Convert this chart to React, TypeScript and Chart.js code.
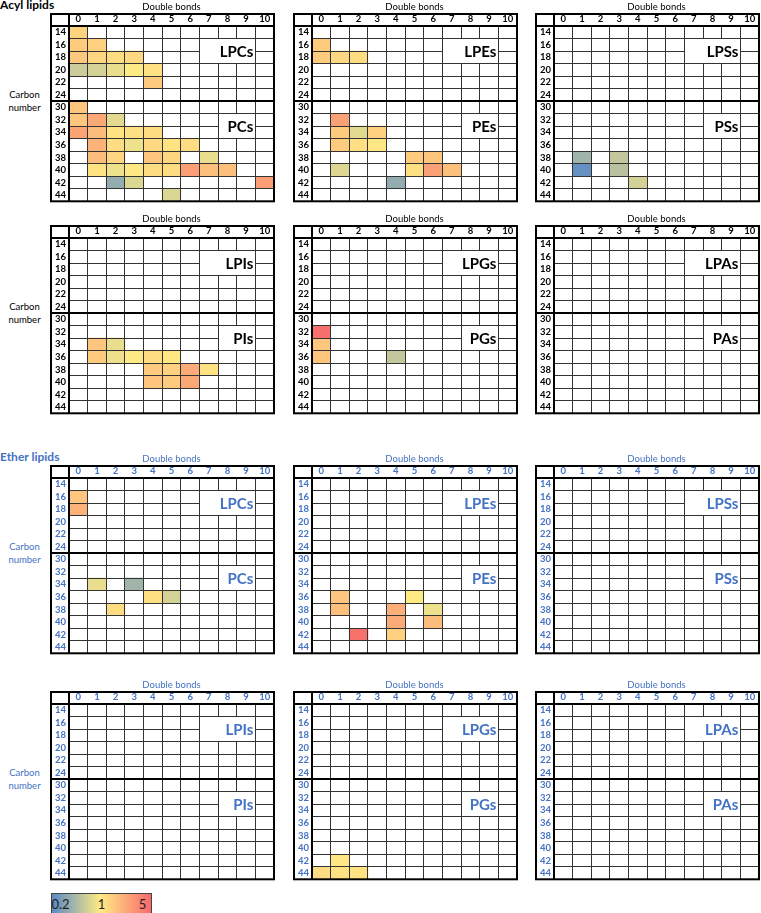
import React, { useEffect, useRef } from 'react';
import { Chart, registerables } from 'chart.js';

Chart.register(...registerables);
Chart.defaults.font.family = 'Lato, "Open Sans", sans-serif';

// ---------- data ----------
const DOUBLE_BONDS = ['0', '1', '2', '3', '4', '5', '6', '7', '8', '9', '10'];
const CARBON_NUMBERS = ['14', '16', '18', '20', '22', '24', '30', '32', '34', '36', '38', '40', '42', '44'];
const SCALE_TICKS = ['0.2', '1', '5'];
const SCALE_VALUES = [0.2, 1, 5];

type Cell = [string, number, number]; // [carbon number, double bonds, fold change]

const ACYL_PC: Cell[] = [
  ['14', 0, 1.35],
  ['16', 0, 1.5], ['16', 1, 1.4],
  ['18', 0, 1.55], ['18', 1, 1.3], ['18', 2, 1.2], ['18', 3, 1.25],
  ['20', 0, 0.6], ['20', 1, 0.65], ['20', 2, 0.8], ['20', 3, 1.0], ['20', 4, 1.1],
  ['22', 4, 1.5],
  ['30', 0, 1.6],
  ['32', 0, 1.6], ['32', 1, 2.3], ['32', 2, 0.75],
  ['34', 0, 2.4], ['34', 1, 1.8], ['34', 2, 1.1], ['34', 3, 1.15], ['34', 4, 1.2],
  ['36', 1, 2.0], ['36', 2, 1.2], ['36', 3, 0.85], ['36', 4, 1.25], ['36', 5, 1.1], ['36', 6, 1.2],
  ['38', 1, 1.8], ['38', 2, 1.3], ['38', 4, 1.6], ['38', 5, 1.3], ['38', 7, 0.8],
  ['40', 1, 1.1], ['40', 2, 0.85], ['40', 3, 1.05], ['40', 4, 1.2], ['40', 5, 1.2], ['40', 6, 2.6], ['40', 7, 1.7], ['40', 8, 1.7],
  ['42', 2, 0.35], ['42', 3, 0.7], ['42', 10, 2.6],
  ['44', 5, 0.7],
];
const ACYL_PE: Cell[] = [
  ['16', 0, 1.5],
  ['18', 0, 1.5], ['18', 1, 1.25], ['18', 2, 1.2],
  ['32', 1, 2.5],
  ['34', 1, 1.5], ['34', 2, 0.75], ['34', 3, 1.4],
  ['36', 1, 1.5], ['36', 2, 1.15], ['36', 3, 1.05],
  ['38', 5, 1.5], ['38', 6, 1.6],
  ['40', 1, 0.72], ['40', 5, 1.15], ['40', 6, 2.5], ['40', 7, 1.7],
  ['42', 4, 0.35],
];
const ACYL_PS: Cell[] = [
  ['38', 1, 0.4], ['38', 3, 0.55],
  ['40', 1, 0.22], ['40', 3, 0.5],
  ['42', 4, 0.65],
];
const ACYL_PI: Cell[] = [
  ['34', 1, 1.6], ['34', 2, 0.8],
  ['36', 1, 1.5], ['36', 2, 0.85], ['36', 3, 1.0], ['36', 4, 1.2], ['36', 5, 1.05],
  ['38', 4, 1.5], ['38', 5, 1.4], ['38', 6, 2.2], ['38', 7, 1.1],
  ['40', 4, 1.6], ['40', 5, 1.5], ['40', 6, 2.3],
];
const ACYL_PG: Cell[] = [
  ['32', 0, 4.6], ['34', 0, 1.6], ['36', 0, 1.6], ['36', 4, 0.55],
];
const ACYL_PA: Cell[] = [];
const ETHER_PC: Cell[] = [
  ['16', 0, 1.6], ['18', 0, 2.0],
  ['34', 1, 0.8], ['34', 3, 0.4],
  ['36', 4, 1.15], ['36', 5, 0.65],
  ['38', 2, 1.2],
];
const ETHER_PE: Cell[] = [
  ['36', 1, 1.6], ['36', 5, 1.0],
  ['38', 1, 1.7], ['38', 4, 2.1], ['38', 6, 0.85],
  ['40', 4, 2.2], ['40', 6, 1.8],
  ['42', 2, 4.5], ['42', 4, 1.4],
];
const ETHER_PS: Cell[] = [];
const ETHER_PI: Cell[] = [];
const ETHER_PG: Cell[] = [
  ['42', 1, 1.05], ['44', 0, 1.2], ['44', 1, 1.1], ['44', 2, 1.1],
];
const ETHER_PA: Cell[] = [];

// ---------- style ----------
const FONT = 'Lato, "Open Sans", sans-serif';
const BLUE_TEXT = '#4472C4';
const GRID = '#333333';
const C_LOW = [90, 138, 198];
const C_MID = [255, 235, 132];
const C_HIGH = [248, 105, 107];

const COL_LEFTS = [69, 312, 554];
const ROW_TOPS = [26, 238, 478, 704];
const LABEL_W = 18;
const HEADER_H = 12;
const AXIS_H = 25;
const DATA_W = 205;
const DATA_H = 176;
const PAD = { left: 2, right: 2, top: 1, bottom: 8 };
const CANVAS_W = PAD.left + LABEL_W + DATA_W + PAD.right;
const CANVAS_H = PAD.top + AXIS_H + DATA_H + PAD.bottom;

function rgb(c: number[]) {
  return `rgb(${c.map((v) => Math.round(v)).join(',')})`;
}
function foldColor(v: number) {
  const t = Math.max(-1, Math.min(1, Math.log(v) / Math.log(5)));
  const target = t < 0 ? C_LOW : C_HIGH;
  const f = Math.abs(t);
  return rgb(C_MID.map((m, i) => m + (target[i] - m) * f));
}

type PanelDef = { row: number; col: number; lyso: string; diacyl: string; cells: Cell[]; ether: boolean };

const PANELS: PanelDef[] = [
  { row: 0, col: 0, lyso: 'LPCs', diacyl: 'PCs', cells: ACYL_PC, ether: false },
  { row: 0, col: 1, lyso: 'LPEs', diacyl: 'PEs', cells: ACYL_PE, ether: false },
  { row: 0, col: 2, lyso: 'LPSs', diacyl: 'PSs', cells: ACYL_PS, ether: false },
  { row: 1, col: 0, lyso: 'LPIs', diacyl: 'PIs', cells: ACYL_PI, ether: false },
  { row: 1, col: 1, lyso: 'LPGs', diacyl: 'PGs', cells: ACYL_PG, ether: false },
  { row: 1, col: 2, lyso: 'LPAs', diacyl: 'PAs', cells: ACYL_PA, ether: false },
  { row: 2, col: 0, lyso: 'LPCs', diacyl: 'PCs', cells: ETHER_PC, ether: true },
  { row: 2, col: 1, lyso: 'LPEs', diacyl: 'PEs', cells: ETHER_PE, ether: true },
  { row: 2, col: 2, lyso: 'LPSs', diacyl: 'PSs', cells: ETHER_PS, ether: true },
  { row: 3, col: 0, lyso: 'LPIs', diacyl: 'PIs', cells: ETHER_PI, ether: true },
  { row: 3, col: 1, lyso: 'LPGs', diacyl: 'PGs', cells: ETHER_PG, ether: true },
  { row: 3, col: 2, lyso: 'LPAs', diacyl: 'PAs', cells: ETHER_PA, ether: true },
];

function Panel({ def }: { def: PanelDef }) {
  const ref = useRef<HTMLCanvasElement>(null);
  useEffect(() => {
    if (!ref.current) return;
    const txt = def.ether ? BLUE_TEXT : '#000000';
    const datasets: any[] = [];
    CARBON_NUMBERS.forEach((c, r) => {
      const rowCells = def.cells.filter((x) => x[0] === c);
      if (!rowCells.length) return;
      datasets.push({
        data: DOUBLE_BONDS.map((_, db) => (rowCells.some((x) => x[1] === db) ? [r, r + 1] : null)),
        backgroundColor: DOUBLE_BONDS.map((_, db) => {
          const m = rowCells.find((x) => x[1] === db);
          return m ? foldColor(m[2]) : 'rgba(0,0,0,0)';
        }),
        borderWidth: 0,
        grouped: false,
        barPercentage: 1,
        categoryPercentage: 1,
        xAxisID: 'x',
        yAxisID: 'y',
      });
    });

    const frame = {
      id: 'tableFrame',
      afterDraw(chart: any) {
        const { ctx, chartArea: a, scales } = chart;
        const xs = scales.x;
        const ys = scales.y;
        const cw = xs.getPixelForValue(1) - xs.getPixelForValue(0);
        const colL = (c: number) => xs.getPixelForValue(c) - cw / 2;
        const rowT = (r: number) => ys.getPixelForValue(r);
        ctx.save();
        const boxes: [string, number, number][] = [
          [def.lyso, 7, 1],
          [def.diacyl, 8, 7],
        ];
        boxes.forEach(([label, c0, r0]) => {
          const x0 = Math.round(colL(c0) - 0.5) + 1;
          const x1 = Math.round(colL(10) - 0.5);
          const y0 = Math.round(rowT(r0) - 0.5) + 1;
          const y1 = Math.round(rowT(r0 + 2) - 0.5);
          ctx.fillStyle = '#ffffff';
          ctx.fillRect(x0, y0, x1 - x0, y1 - y0);
          ctx.fillStyle = txt;
          ctx.font = `bold 15px ${FONT}`;
          ctx.textAlign = 'right';
          ctx.textBaseline = 'alphabetic';
          ctx.fillText(label, colL(10) - 2, rowT(r0 + 1) + 6.3);
        });
        const L = a.left - LABEL_W;
        const R = a.right;
        const T = a.top - HEADER_H;
        const B = a.bottom;
        ctx.strokeStyle = '#000000';
        ctx.lineWidth = 2;
        ctx.strokeRect(L, T, R - L, B - T);
        const line = (x0: number, y0: number, x1: number, y1: number) => {
          ctx.beginPath();
          ctx.moveTo(x0, y0);
          ctx.lineTo(x1, y1);
          ctx.stroke();
        };
        line(L, a.top, R, a.top);
        line(a.left, T, a.left, B);
        const sep = Math.round(rowT(6));
        line(L, sep, R, sep);
        ctx.restore();
      },
    };

    const tickFont = { family: FONT, size: 9.5, weight: 'bold' as const };
    const chart = new Chart(ref.current, {
      type: 'bar',
      data: { labels: DOUBLE_BONDS, datasets },
      options: {
        responsive: false,
        animation: false,
        events: [],
        layout: { padding: PAD },
        plugins: { legend: { display: false }, tooltip: { enabled: false } },
        scales: {
          x: {
            type: 'category',
            position: 'top',
            offset: true,
            grid: { offset: true, color: GRID, lineWidth: 1, drawTicks: false, z: 1 },
            border: { display: false },
            ticks: { color: txt, font: tickFont, padding: 1, autoSkip: false, maxRotation: 0 },
            title: { display: true, text: 'Double bonds', color: txt, font: { family: FONT, size: 9.5 }, padding: 0 },
            afterFit: (s: any) => {
              s.height = AXIS_H;
            },
          },
          y: {
            type: 'linear',
            position: 'left',
            min: 0,
            max: CARBON_NUMBERS.length,
            reverse: true,
            ticks: { display: false, stepSize: 1, maxTicksLimit: 100, autoSkip: false },
            grid: { color: GRID, lineWidth: 1, drawTicks: false, z: 1 },
            border: { display: false },
            afterFit: (s: any) => {
              s.width = 0;
            },
          },
          yl: {
            type: 'category',
            labels: CARBON_NUMBERS,
            position: 'left',
            offset: true,
            grid: { display: false, drawTicks: false },
            border: { display: false },
            ticks: { color: txt, font: tickFont, padding: 3, autoSkip: false },
            afterFit: (s: any) => {
              s.width = LABEL_W;
            },
          },
        },
      } as any,
      plugins: [frame],
    });
    return () => chart.destroy();
  }, [def]);

  return (
    <canvas
      ref={ref}
      width={CANVAS_W}
      height={CANVAS_H}
      style={{
        position: 'absolute',
        left: COL_LEFTS[def.col] - LABEL_W - PAD.left,
        top: ROW_TOPS[def.row] - AXIS_H - PAD.top,
        width: CANVAS_W,
        height: CANVAS_H,
      }}
    />
  );
}

export default function App() {
  const sepOffset = (6 * DATA_H) / CARBON_NUMBERS.length;
  return (
    <div style={{ position: 'absolute', left: 0, top: 0, width: 761, height: 913, background: '#fff', fontFamily: FONT, overflow: 'hidden' }}>
      <div style={{ position: 'absolute', left: 0, top: -1, fontSize: 12, lineHeight: '12px', fontWeight: 700, color: '#000', whiteSpace: 'nowrap' }}>
        Acyl lipids
      </div>
      <div style={{ position: 'absolute', left: 0, top: 451, fontSize: 12, lineHeight: '12px', fontWeight: 700, color: BLUE_TEXT, whiteSpace: 'nowrap' }}>
        Ether lipids
      </div>
      {ROW_TOPS.map((t, r) => (
        <div
          key={'cn' + r}
          style={{
            position: 'absolute',
            left: 0,
            width: 49,
            top: t + sepOffset - 13,
            fontSize: 9.5,
            lineHeight: '13px',
            textAlign: 'center',
            color: r >= 2 ? BLUE_TEXT : '#000',
          }}
        >
          Carbon
          <br />
          number
        </div>
      ))}
      {PANELS.map((p, i) => (
        <Panel key={i} def={p} />
      ))}
      <div
        style={{
          position: 'absolute',
          left: 51,
          top: 893,
          width: 101,
          height: 22,
          boxSizing: 'border-box',
          border: '1px solid #444',
          background: `linear-gradient(to right, ${rgb(C_LOW)} 0%, ${rgb(C_MID)} 49%, ${rgb(C_HIGH)} 100%)`,
        }}
      />
      {SCALE_TICKS.map((t, i) => {
        const frac = (Math.log(SCALE_VALUES[i]) / Math.log(5) + 1) / 2;
        const x = 51 + 9.5 + frac * (101 - 19);
        return (
          <div
            key={t}
            style={{
              position: 'absolute',
              left: x,
              top: 897,
              transform: 'translateX(-50%)',
              fontSize: 13,
              lineHeight: '15px',
              color: '#222',
            }}
          >
            {t}
          </div>
        );
      })}
    </div>
  );
}
